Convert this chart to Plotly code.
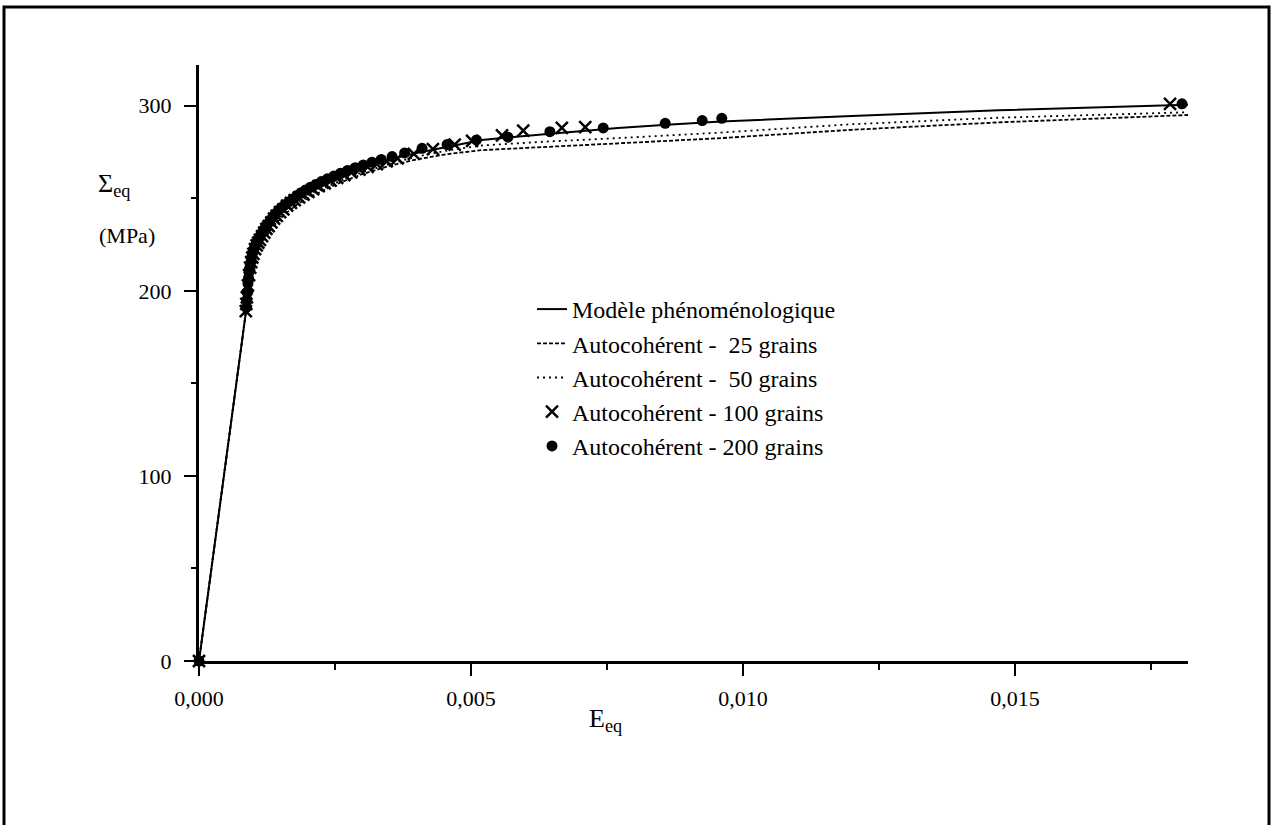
import plotly.graph_objects as go

# ---------------- data ----------------
strain_model = [0, 0.00086, 0.00090, 0.00095, 0.00105, 0.0012, 0.0014, 0.0016, 0.0018, 0.0020,
                0.0023, 0.0026, 0.0030, 0.0035, 0.0040, 0.0046, 0.0052, 0.0063, 0.0077, 0.0086,
                0.0096, 0.0120, 0.0147, 0.0182]
stress_model = [0, 188, 205, 215, 224, 232, 240, 246, 250.5, 254,
                258, 262, 266.5, 271, 274.5, 278, 281.5, 284.5, 288, 289.7,
                291.5, 294.5, 297.5, 300.5]
stress_25 = [0, 188, 202, 211, 220, 228, 236, 242, 246.5, 250,
             254.5, 258.5, 263, 267.5, 271, 274, 276, 277.5, 279.5, 281,
             282.5, 287, 291, 295]
stress_50 = [0, 188, 203, 212, 221, 229, 237, 243, 247.5, 251,
             255.5, 259.5, 264, 268.5, 272.5, 276, 278.5, 280.5, 282.5, 284,
             285.5, 290, 293.5, 296.5]

strain_100 = [0, 0.00086, 0.00087, 0.00088, 0.0009, 0.00092, 0.00094, 0.00096, 0.00098, 0.001,
              0.00103, 0.00106, 0.00109, 0.00112, 0.00116, 0.0012, 0.00124, 0.00128, 0.00133, 0.00138,
              0.00143, 0.00149, 0.00155, 0.00162, 0.00169, 0.00176, 0.00184, 0.00192, 0.00201, 0.0021,
              0.0022, 0.00231, 0.00242, 0.00254, 0.00267, 0.0028, 0.00295, 0.0031, 0.00327, 0.00345,
              0.00365, 0.00395, 0.0043, 0.0047, 0.00502, 0.00557, 0.00596, 0.00667, 0.0071, 0.01785]
stress_100 = [0, 189, 193, 196.5, 203, 208.5, 212.5, 215.5, 218, 220,
              222.5, 224.5, 226, 227.5, 229.5, 231.5, 233.5, 235, 237, 239,
              240.5, 242.5, 244, 246, 247.5, 249, 250.5, 252, 253.5, 255,
              256.5, 258, 259.5, 261, 262.5, 264, 265.5, 267, 268.5, 270,
              271.5, 274, 276.5, 279, 281, 284, 286.5, 288, 288.5, 301]

strain_200 = [0, 0.00087, 0.00088, 0.00089, 0.0009, 0.00091, 0.00092, 0.00093, 0.00094, 0.00096,
              0.00098, 0.001, 0.00102, 0.00105, 0.00108, 0.00111, 0.00114, 0.00118, 0.00122, 0.00126,
              0.0013, 0.00135, 0.0014, 0.00146, 0.00152, 0.00158, 0.00165, 0.00172, 0.0018, 0.00188,
              0.00196, 0.00205, 0.00215, 0.00225, 0.00236, 0.00248, 0.0026, 0.00273, 0.00287, 0.00302,
              0.00318, 0.00335, 0.00355, 0.00378, 0.0041, 0.00456, 0.0051, 0.00568, 0.00645, 0.00743,
              0.00857, 0.00925, 0.00961, 0.01807]
stress_200 = [0, 191, 195, 199, 204, 207, 210, 212, 214.5, 217.5,
              220, 222, 223.5, 225.5, 227.5, 229, 230.5, 232.5, 234.5, 236,
              237.5, 239.5, 241.5, 243.5, 245, 246.5, 248, 249.5, 251.5, 253,
              254.5, 256, 257.5, 259, 260.5, 262, 263.5, 265, 266.5, 268,
              269.5, 271, 272.5, 274.5, 277, 279, 281.5, 283, 286, 288,
              290.5, 292, 293.2, 301]

series_names = ["Modèle phénoménologique",
                "Autocohérent - \u00a025 grains",
                "Autocohérent - \u00a050 grains",
                "Autocohérent - 100 grains",
                "Autocohérent - 200 grains"]

x_tickvals = [0, 0.005, 0.010, 0.015]
y_tickvals = [0, 100, 200, 300]

FONT = "Liberation Serif"

fig = go.Figure()
fig.add_trace(go.Scatter(x=strain_model, y=stress_model, mode="lines", name=series_names[0],
                         line=dict(color="black", width=2)))
fig.add_trace(go.Scatter(x=strain_model, y=stress_25, mode="lines", name=series_names[1],
                         line=dict(color="black", width=1.8, dash="4px,2px")))
fig.add_trace(go.Scatter(x=strain_model, y=stress_50, mode="lines", name=series_names[2],
                         line=dict(color="black", width=1.8, dash="2px,4px")))
fig.add_trace(go.Scatter(x=strain_100, y=stress_100, mode="markers", name=series_names[3],
                         cliponaxis=False,
                         marker=dict(symbol="x-thin", size=12, color="black",
                                     line=dict(color="black", width=2.5))))
fig.add_trace(go.Scatter(x=strain_200, y=stress_200, mode="markers", name=series_names[4],
                         cliponaxis=False,
                         marker=dict(symbol="circle", size=11, color="black")))

L, R, T, B = 199, 85, 65, 164
W, H = 1273, 825
pw, ph = W - L - R, H - T - B

def px(xp):
    return (xp - L) / pw

def py(yp):
    return (H - B - yp) / ph

fig.update_layout(
    width=W, height=H,
    margin=dict(l=L, r=R, t=T, b=B, autoexpand=False),
    paper_bgcolor="white", plot_bgcolor="white",
    separators=", ",
    font=dict(family=FONT, size=22, color="black"),
    showlegend=True,
    legend=dict(x=px(532), y=py(287), xanchor="left", yanchor="top",
                bgcolor="rgba(0,0,0,0)", font=dict(family=FONT, size=24, color="black"),
                tracegroupgap=0, itemwidth=30),
    xaxis=dict(range=[0, 0.01818], showgrid=False, zeroline=False,
               showline=True, linecolor="black", linewidth=3,
               ticks="outside", ticklen=12, tickwidth=2, tickcolor="black",
               tickvals=x_tickvals, tickformat=".3f", ticklabelstandoff=4,
               minor=dict(dtick=0.0025, ticks="outside", ticklen=6, tickwidth=2, tickcolor="black"),
               tickfont=dict(family=FONT, size=22)),
    yaxis=dict(range=[0, 322], showgrid=False, zeroline=False,
               showline=True, linecolor="black", linewidth=3,
               ticks="outside", ticklen=12, tickwidth=2, tickcolor="black",
               tickvals=y_tickvals, ticklabelstandoff=8,
               minor=dict(dtick=50, ticks="outside", ticklen=5, tickwidth=2, tickcolor="black"),
               tickfont=dict(family=FONT, size=22)),
    annotations=[
        dict(text="Σ<sub>eq</sub>", x=px(96), y=py(167), xref="paper", yref="paper",
             showarrow=False, font=dict(family=FONT, size=26)),
        dict(text="(MPa)", x=px(97), y=py(221), xref="paper", yref="paper",
             showarrow=False, font=dict(family=FONT, size=22)),
        dict(text="E<sub>eq</sub>", x=px(605), y=py(738), xref="paper", yref="paper",
             showarrow=False, font=dict(family=FONT, size=26)),
    ],
    shapes=[
        dict(type="rect", xref="paper", yref="paper",
             x0=px(4), x1=px(1269), y0=py(832), y1=py(7),
             line=dict(color="black", width=3), fillcolor="rgba(0,0,0,0)", layer="below"),
    ],
)

fig.write_html("out.html", config={"displayModeBar": False},
               post_script="document.body.style.margin='0';document.body.style.overflow='hidden';")
